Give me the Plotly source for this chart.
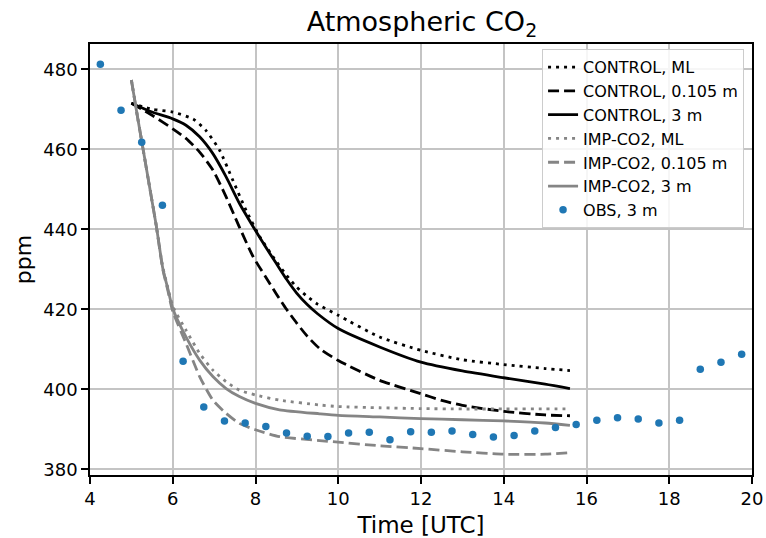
import plotly.graph_objects as go

# ---------------- data ----------------
ctrl_ml_t = [5.0, 5.5, 6.0, 6.5, 6.8, 7.13, 7.45, 7.77, 8.1, 8.5, 8.75, 9.0, 9.25, 9.5, 10.0, 11.0, 12.0, 13.0, 14.0, 15.0, 15.6]
ctrl_ml_v = [471.5, 470.0, 469.3, 467.5, 464.7, 459.8, 452.3, 444.8, 438.2, 432.0, 428.5, 425.5, 423.2, 421.3, 418.5, 413.1, 409.75, 407.4, 406.2, 405.2, 404.7]

ctrl_sfc_t = [5.0, 5.5, 6.0, 6.32, 6.65, 6.97, 7.29, 7.6, 7.94, 8.25, 8.5, 8.75, 9.0, 9.25, 9.55, 10.0, 11.0, 12.0, 12.5, 13.0, 14.0, 15.0, 15.6]
ctrl_sfc_v = [471.5, 468.5, 465.1, 462.7, 459.3, 454.8, 448.1, 440.8, 433.2, 428.0, 423.9, 420.0, 416.5, 413.3, 410.2, 407.2, 402.25, 398.9, 397.25, 396.0, 394.5, 393.6, 393.4]

ctrl_3m_t = [5.0, 5.5, 6.0, 6.32, 6.65, 6.97, 7.29, 7.61, 7.94, 8.25, 8.5, 8.75, 9.0, 9.25, 9.5, 10.0, 11.0, 12.0, 13.0, 14.0, 15.0, 15.6]
ctrl_3m_v = [471.5, 469.3, 467.6, 466.0, 463.1, 458.9, 453.1, 446.5, 440.7, 435.5, 431.5, 427.5, 424.0, 421.2, 418.9, 415.2, 410.6, 406.8, 404.6, 402.9, 401.3, 400.2]

imp_ml_t = [5.0, 5.15, 5.3, 5.45, 5.6, 5.76, 5.88, 6.0, 6.32, 6.65, 6.97, 7.29, 7.61, 8.0, 8.58, 9.55, 10.0, 11.0, 12.0, 13.0, 14.0, 15.0, 15.6]
imp_ml_v = [477.3, 468.0, 459.0, 450.0, 441.0, 430.5, 425.5, 420.8, 414.8, 409.0, 404.8, 401.9, 399.8, 398.6, 397.3, 396.1, 395.7, 395.4, 395.2, 395.1, 395.1, 395.1, 395.1]

imp_sfc_t = [5.0, 5.15, 5.3, 5.45, 5.6, 5.76, 5.88, 6.0, 6.32, 6.65, 6.97, 7.29, 7.61, 8.0, 8.58, 9.55, 10.0, 11.0, 12.0, 13.0, 14.0, 15.0, 15.6]
imp_sfc_v = [477.3, 468.0, 459.0, 450.0, 441.0, 430.0, 424.8, 419.5, 411.5, 403.2, 397.3, 394.0, 391.5, 389.9, 388.2, 387.2, 386.8, 385.9, 385.2, 384.4, 383.8, 383.8, 384.2]

imp_3m_t = [5.0, 5.15, 5.3, 5.45, 5.6, 5.76, 5.88, 6.0, 6.32, 6.65, 6.97, 7.29, 7.61, 8.0, 8.58, 9.55, 10.0, 11.0, 12.0, 13.0, 14.0, 15.0, 15.6]
imp_3m_v = [477.3, 468.0, 459.0, 450.0, 441.0, 430.2, 425.2, 420.2, 413.1, 407.3, 403.2, 400.2, 398.2, 396.5, 394.9, 393.9, 393.5, 393.1, 392.7, 392.4, 392.1, 391.6, 391.0]

obs_t = [4.25, 4.75, 5.25, 5.75, 6.25, 6.75, 7.25, 7.75, 8.25, 8.75, 9.25, 9.75, 10.25, 10.75,
         11.25, 11.75, 12.25, 12.75, 13.25, 13.75, 14.25, 14.75, 15.25, 15.75, 16.25, 16.75,
         17.25, 17.75, 18.25, 18.75, 19.25, 19.75]
obs_v = [481.25, 469.75, 461.75, 446.0, 407.0, 395.6, 392.1, 391.6, 390.75, 389.1, 388.3, 388.25, 389.1, 389.3,
         387.4, 389.4, 389.3, 389.6, 388.7, 388.1, 388.5, 389.6, 390.5, 391.25, 392.25, 392.9,
         392.6, 391.6, 392.3, 405.0, 406.75, 408.75]

x_ticks = [4, 6, 8, 10, 12, 14, 16, 18, 20]
y_ticks = [380, 400, 420, 440, 460, 480]

# ---------------- styles ----------------
BLACK = "black"
GREY = "#858585"
DOT = "3px,5px"
DASH = "11px,5px"
LW = 2.8
FONT = "DejaVu Sans"

series = [
    ("CONTROL, ML", ctrl_ml_t, ctrl_ml_v, BLACK, DOT),
    ("CONTROL, 0.105 m", ctrl_sfc_t, ctrl_sfc_v, BLACK, DASH),
    ("CONTROL, 3 m", ctrl_3m_t, ctrl_3m_v, BLACK, "solid"),
    ("IMP-CO2, ML", imp_ml_t, imp_ml_v, GREY, DOT),
    ("IMP-CO2, 0.105 m", imp_sfc_t, imp_sfc_v, GREY, DASH),
    ("IMP-CO2, 3 m", imp_3m_t, imp_3m_v, GREY, "solid"),
]

fig = go.Figure()
for name, t, v, col, dash in series:
    fig.add_trace(go.Scatter(
        x=t, y=v, mode="lines", name=name,
        line=dict(color=col, width=LW, dash=dash, shape="spline", smoothing=0.6),
    ))

fig.add_trace(go.Scatter(
    x=obs_t, y=obs_v, mode="markers", name="OBS, 3 m",
    marker=dict(color="#1f77b4", size=7.5),
))

axis_common = dict(
    showline=True, linecolor="black", linewidth=1.6, mirror=True,
    ticks="outside", ticklen=7, tickwidth=1.5, tickcolor="black",
    showgrid=True, gridcolor="#c4c4c4", gridwidth=1.6,
    zeroline=False, automargin=False,
    tickfont=dict(family=FONT, size=18, color="black"),
)

fig.update_layout(
    width=766, height=538,
    margin=dict(l=90, r=14, t=44, b=63, autoexpand=False),
    paper_bgcolor="white", plot_bgcolor="white",
    font=dict(family=FONT, color="black"),
    title=dict(text="Atmospheric CO<sub>2</sub>", x=0.5508, xanchor="center",
               y=0.960, yanchor="middle", font=dict(family=FONT, size=27, color="black")),
    xaxis=dict(range=[4, 20], tickvals=x_ticks,
               title=dict(text="Time [UTC]", font=dict(family=FONT, size=23), standoff=8),
               **axis_common),
    yaxis=dict(range=[378.6, 486.3], tickvals=y_ticks,
               title=dict(text="ppm", font=dict(family=FONT, size=22), standoff=6),
               **axis_common),
    legend=dict(x=0.988, xanchor="right", y=0.988, yanchor="top",
                bgcolor="rgba(255,255,255,0.85)", bordercolor="#cccccc", borderwidth=1,
                font=dict(family=FONT, size=16, color="black"),
                itemwidth=30),
    showlegend=True,
)

fig.write_html("out.html", config={"displayModeBar": False},
               post_script="document.body.style.margin='0px';document.body.style.overflow='hidden';")
